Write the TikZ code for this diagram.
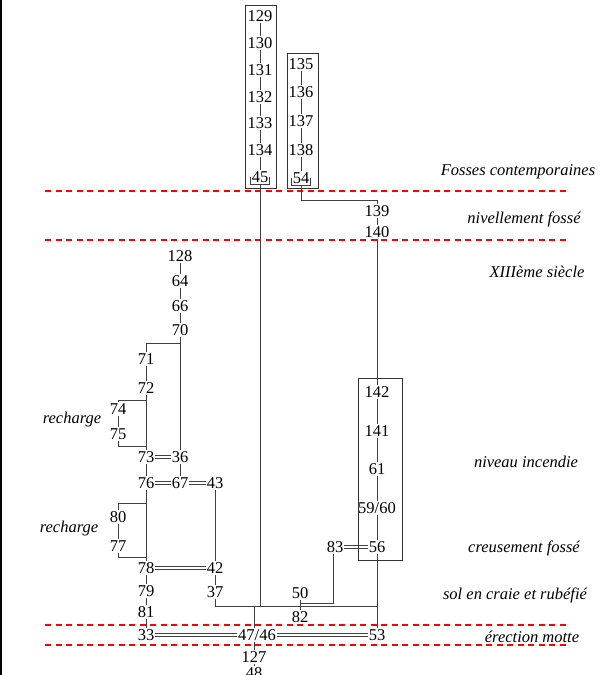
\documentclass[tikz,border=0pt]{standalone}
\usepackage{fontspec}
\setmainfont{Liberation Serif}
\newfontfamily\harrisfont{Liberation Serif}
\usetikzlibrary{positioning,calc}

\begin{document}
\begin{tikzpicture}[
  x=1pt,
  y=-1pt,
  num/.style={font=\harrisfont\fontsize{16.5}{18}\selectfont, inner sep=1pt, text height=11.5pt, text depth=0pt},
  phase/.style={font=\harrisfont\fontsize{16.5}{18}\selectfont\itshape, inner sep=0pt},
  link/.style={draw=black!75, line width=0.6pt},
  eqlink/.style={
    postaction={draw=black!75, line width=0.6pt, transform canvas={yshift=1.3pt}},
    postaction={draw=black!75, line width=0.6pt, transform canvas={yshift=-1.3pt}}},
  groupbox/.style={draw=black!80, line width=0.8pt},
  limit/.style={draw=red, line width=2.6pt, dash pattern=on 6pt off 4.5pt}
]
\useasboundingbox (0,0) rectangle (605,675);
\draw[line width=1.6pt] (0.8,0) -- (0.8,675);

% Phase limits.
\foreach \yy in {191,240,625,645} {
  \draw[limit] (45,\yy) -- (566,\yy);
}

% Contemporary pits: two boxed sequences.
\foreach \n/\yy in {129/16,130/43,131/70,132/97,133/123,134/150,45/177} {
  \node[num] (n\n) at (260,\yy) {\n};
}
\foreach \a/\b in {129/130,130/131,131/132,132/133,133/134,134/45} {
  \draw[link] (n\a) -- (n\b);
}
\foreach \n/\yy in {135/64,136/92,137/121,138/150,54/178} {
  \node[num] (n\n) at (301,\yy) {\n};
}
\foreach \a/\b in {135/136,136/137,137/138,138/54} {
  \draw[link] (n\a) -- (n\b);
}
\draw[link] (n45.west) |- (n45.south) -| (n45.east);
\draw[link] (n54.west) |- (n54.south) -| (n54.east);
\draw[groupbox] (245,5) rectangle (276,188);
\draw[groupbox] (287,53) rectangle (318,188);

% Ditch levelling and burnt level (right column).
\foreach \n/\yy in {139/211,140/232,142/392,141/431,61/469,56/547} {
  \node[num] (n\n) at (377,\yy) {\n};
}
\node[num] (n5960) at (377,508) {59/60};
\coordinate (k54) at (301,200);
\draw[link] (n54.south) -- (k54) -| (n139);
\foreach \a/\b in {139/140,140/142,142/141,141/61,61/5960,5960/56} {
  \draw[link] (n\a) -- (n\b);
}
\draw[groupbox] (358,378) rectangle (402,560);

% XIIIth century sequence (left column).
\foreach \n/\yy in {128/256,64/281,66/306,70/330} {
  \node[num] (n\n) at (180,\yy) {\n};
}
\foreach \a/\b in {128/64,64/66,66/70} {
  \draw[link] (n\a) -- (n\b);
}
\foreach \n/\xx/\yy in {71/146/359,72/146/388,74/118/409,75/118/434,73/146/457,36/180/457,
                        76/146/483,67/180/483,43/215/483,80/118/517,77/118/546,
                        78/146/568,42/215/568,79/146/591,81/146/612,37/215/592} {
  \node[num] (n\n) at (\xx,\yy) {\n};
}
\coordinate (b70) at (180,343);
\coordinate (r72) at (146,400);
\coordinate (r75) at (146,446);
\coordinate (r76) at (146,503);
\coordinate (r77) at (146,557);
\draw[link] (n70) -- (n36);
\draw[link] (b70) -| (n71);
\draw[link] (n71) -- (n72);
\draw[link] (n72) -- (n73);
\draw[link] (r72) -| (n74);
\draw[link] (n74) -- (n75);
\draw[link] (n75) |- (r75);
\path[eqlink] (n73) -- (n36);
\draw[link] (n73) -- (n76);
\draw[link] (n36) -- (n67);
\path[eqlink] (n76) -- (n67);
\path[eqlink] (n67) -- (n43);
\draw[link] (n76) -- (n78);
\draw[link] (r76) -| (n80);
\draw[link] (n80) -- (n77);
\draw[link] (n77) |- (r77);
\draw[link] (n43) -- (n42);
\path[eqlink] (n78) -- (n42);
\draw[link] (n78) -- (n79);
\draw[link] (n79) -- (n81);
\draw[link] (n42) -- (n37);

% Ditch digging and chalk floor.
\node[num] (n83) at (335,547) {83};
\node[num] (n50) at (300,593) {50};
\node[num] (n82) at (300,617) {82};
\path[eqlink] (n83) -- (n56);
\draw[link] (n50) -- (n82);
\coordinate (j83) at (300,603);
\draw[link] (n83.south -| 333,0) |- (j83);

% Motte erection.
\node[num] (n33) at (146,635) {33};
\node[num] (n4746) at (257,635) {47/46};
\node[num] (n53) at (377,635) {53};
\node[num] (n127) at (254,657) {127};
\node[num] (n48) at (254,673) {48};
\coordinate (j37) at (215,606);
\coordinate (j45) at (260,606);
\coordinate (j4746) at (254,606);
\coordinate (jR) at (377,606);
\draw[link] (n37) -- (j37) -- (jR);
\draw[link] (n45.south) -- (j45);
\draw[link] (n56) -- (n53);
\draw[link] (j4746) -- (j4746 |- n4746.north);
\draw[link] (n81) -- (n33);
\path[eqlink] (n33) -- (n4746);
\path[eqlink] (n4746) -- (n53);
\draw[link] (n127.north) -- (n127.north |- n4746.south);
\draw[link] (n127) -- (n48);

% Phase labels.
\node[phase] (pFosses) at (518,172) {Fosses contemporaines};
\node[phase] (pNivel) at (524,219) {nivellement fossé};
\node[phase] (pXIII) at (537,272) {XIIIème siècle};
\node[phase] (pIncend) at (526,462) {niveau incendie};
\node[phase] (pCreus) at (524,548) {creusement fossé};
\node[phase] (pSol) at (515,595) {sol en craie et rubéfié};
\node[phase] (pMotte) at (532,637) {érection motte};
\node[phase] (pRechA) at (72,420) {recharge};
\node[phase] (pRechB) at (69,529) {recharge};
\end{tikzpicture}
\end{document}
